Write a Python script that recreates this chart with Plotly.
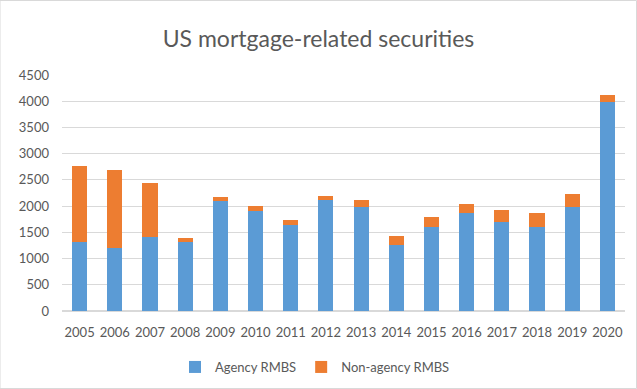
import plotly.graph_objects as go

years = [str(y) for y in range(2005, 2021)]
agency = [1322, 1195, 1417, 1322, 2098, 1907, 1646, 2117, 1977, 1259, 1608, 1862, 1704, 1608, 1989, 3985]
totals = [2765, 2683, 2435, 1386, 2180, 2009, 1729, 2193, 2111, 1436, 1786, 2034, 1932, 1869, 2237, 4113]
non_agency = [t - a for t, a in zip(totals, agency)]

FONT = "Lato, Open Sans, sans-serif"
GREY = "#595959"

fig = go.Figure()
fig.add_bar(x=years, y=agency, name="Agency RMBS", marker_color="#5B9BD5", marker_line_width=0)
fig.add_bar(x=years, y=non_agency, name="Non-agency RMBS", marker_color="#ED7D31", marker_line_width=0)

fig.update_layout(
    barmode="stack",
    bargap=0.57,
    width=637, height=389,
    margin=dict(l=62, r=12, t=75, b=78, autoexpand=False),
    paper_bgcolor="white", plot_bgcolor="white",
    font=dict(family=FONT, color=GREY, size=13),
    title=dict(text="US mortgage-related securities", x=0.5, xanchor="center",
               y=1 - 39 / 389, yanchor="middle", font=dict(size=23, color=GREY, family=FONT)),
    yaxis=dict(range=[0, 4500], dtick=500, gridcolor="#D9D9D9", gridwidth=1,
               zeroline=True, zerolinecolor="#D9D9D9", ticks="", showline=False, automargin=False,
               ticklabelstandoff=12, tickfont=dict(size=13, color=GREY)),
    xaxis=dict(showline=True, linecolor="#D9D9D9", ticks="", ticklabelstandoff=9, automargin=False,
               tickfont=dict(size=13, color=GREY)),
    legend=dict(orientation="h", x=(175 - 62) / 563, xanchor="left", y=-(367 - 311) / 236,
                yanchor="middle", font=dict(size=13, color=GREY), traceorder="normal"),
    shapes=[dict(type="rect", xref="paper", yref="paper", x0=-62/563, x1=1 + 11.5/563,
                 y0=-77.5/236, y1=1 + 74.5/236, line=dict(color="#D9D9D9", width=1))],
)

fig.write_html("out.html")
